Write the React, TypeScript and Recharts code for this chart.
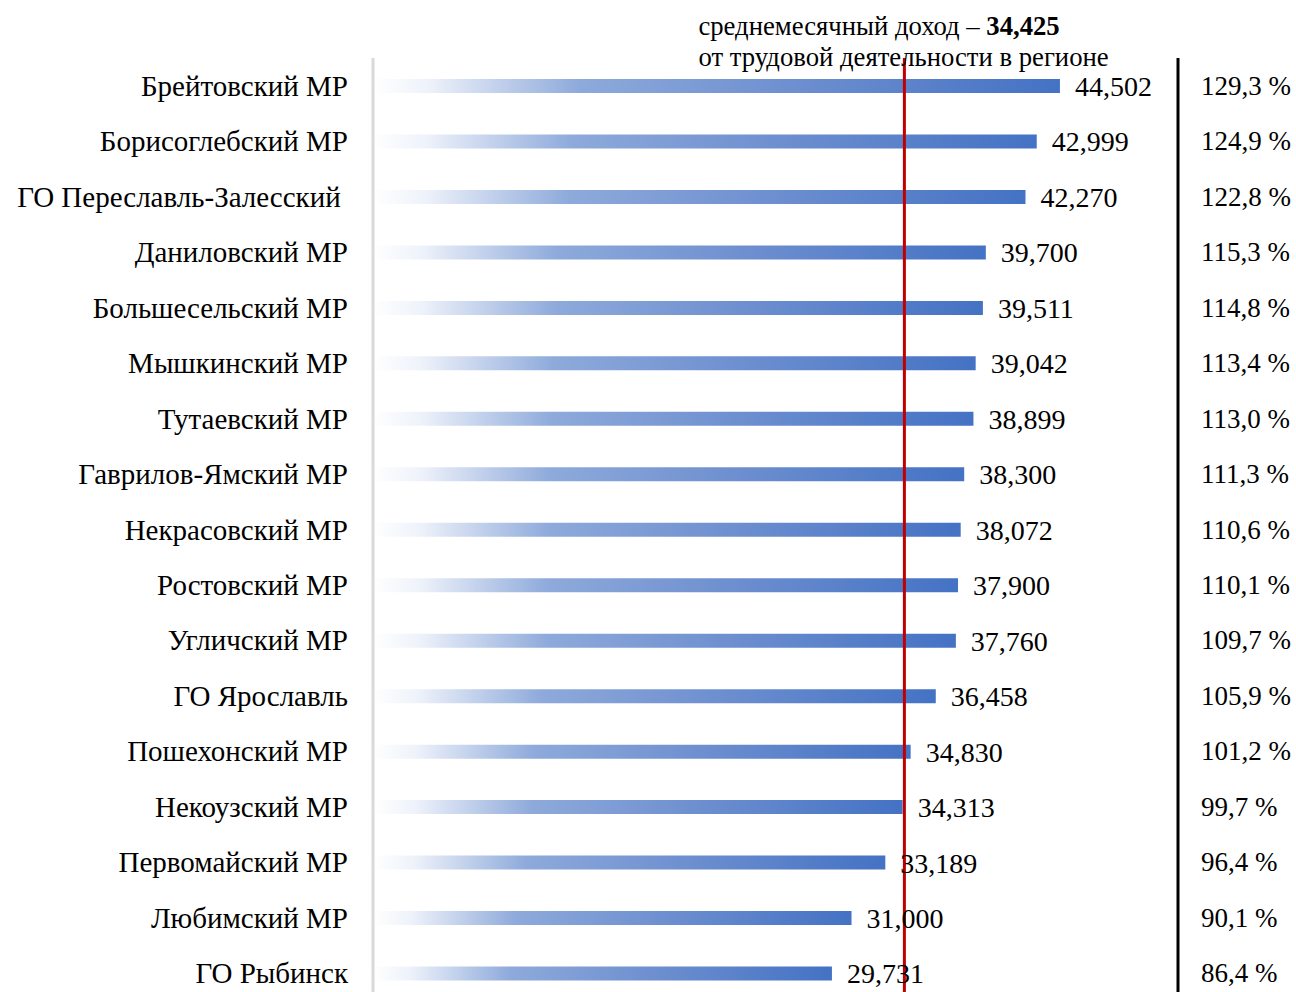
import { BarChart, Bar, XAxis, YAxis, ReferenceLine, LabelList } from 'recharts';

const districts = [
  'Брейтовский МР',
  'Борисоглебский МР',
  'ГО Переславль-Залесский\u00a0',
  'Даниловский МР',
  'Большесельский МР',
  'Мышкинский МР',
  'Тутаевский МР',
  'Гаврилов-Ямский МР',
  'Некрасовский МР',
  'Ростовский МР',
  'Угличский МР',
  'ГО Ярославль',
  'Пошехонский МР',
  'Некоузский МР',
  'Первомайский МР',
  'Любимский МР',
  'ГО Рыбинск',
];

const income = [
  44502, 42999, 42270, 39700, 39511, 39042, 38899, 38300, 38072, 37900, 37760, 36458, 34830, 34313, 33189,
  31000, 29731,
];

const percentOfAvg = [
  '129,3 %', '124,9 %', '122,8 %', '115,3 %', '114,8 %', '113,4 %', '113,0 %', '111,3 %', '110,6 %',
  '110,1 %', '109,7 %', '105,9 %', '101,2 %', '99,7 %', '96,4 %', '90,1 %', '86,4 %',
];

const regionAvg = 34425;

const data = districts.map((name, i) => ({ name, income: income[i], pct: percentOfAvg[i] }));

const FONT = '"Liberation Serif", "Times New Roman", serif';

const fmt = (v: number) => v.toLocaleString('en-US');

const LeftTick = ({ x, y, payload }: any) => (
  <text x={x} y={y} dy={10} textAnchor="end" fontFamily={FONT} fontSize={29} fill="#000">
    {payload.value}
  </text>
);

const RightTick = ({ x, y, payload }: any) => {
  const row = data.find(d => d.name === payload.value);
  return (
    <text x={x} y={y} dy={9} textAnchor="start" fontFamily={FONT} fontSize={27} fill="#000">
      {row ? row.pct : ''}
    </text>
  );
};

const AvgLabel = ({ viewBox }: any) => {
  const { x, y } = viewBox;
  return (
    <g fontFamily={FONT} fontSize={26.7} fill="#000">
      <text x={x - 206} y={y - 23}>
        среднемесячный доход – <tspan fontWeight="bold">{fmt(regionAvg)}</tspan>
      </text>
      <text x={x - 206} y={y + 8}>от трудовой деятельности в регионе</text>
    </g>
  );
};

export default function App() {
  return (
    <div style={{ position: 'absolute', left: 0, top: 0, width: 1296, height: 992, overflow: 'hidden', background: '#fff' }}>
      <BarChart
        width={1296}
        height={1010}
        data={data}
        layout="vertical"
        margin={{ top: 58, right: 0, bottom: 9, left: 0 }}
      >
        <defs>
          <linearGradient id="barGrad" x1="0" y1="0" x2="1" y2="0">
            <stop offset="0" stopColor="#ffffff" />
            <stop offset="0.08" stopColor="#eef2fa" />
            <stop offset="0.3" stopColor="#8eaadb" />
            <stop offset="0.6" stopColor="#6f90d0" />
            <stop offset="1" stopColor="#4472c4" />
          </linearGradient>
        </defs>
        <XAxis type="number" domain={[0, 52150]} hide />
        <YAxis
          type="category"
          dataKey="name"
          width={373}
          tickLine={false}
          tickSize={0}
          tickMargin={25}
          axisLine={{ stroke: '#d9d9d9', strokeWidth: 3 }}
          tick={<LeftTick />}
          interval={0}
        />
        <YAxis
          yAxisId="right"
          type="category"
          dataKey="name"
          orientation="right"
          width={118}
          tickLine={false}
          tickSize={0}
          tickMargin={23}
          axisLine={{ stroke: '#000', strokeWidth: 3 }}
          tick={<RightTick />}
          interval={0}
        />
        <Bar dataKey="income" barSize={14} fill="url(#barGrad)" isAnimationActive={false}>
          <LabelList
            dataKey="income"
            position="right"
            offset={15}
            formatter={(v: any) => fmt(Number(v))}
            style={{ fontFamily: FONT, fontSize: 28, fill: '#000' }}
          />
        </Bar>
        <ReferenceLine x={regionAvg} stroke="#c00000" strokeWidth={3} label={<AvgLabel />} />
      </BarChart>
    </div>
  );
}
